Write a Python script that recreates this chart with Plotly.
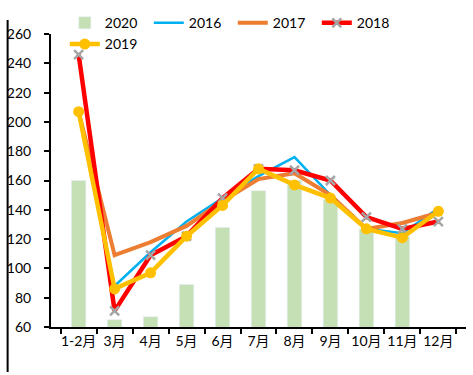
import plotly.graph_objects as go

categories = ["1-2月", "3月", "4月", "5月", "6月", "7月", "8月", "9月", "10月", "11月", "12月"]
s2020 = [160, 65, 67, 89, 128, 153, 160, 147, 127, 122, None]
s2016 = [207, 88, 111, 132, 148, 163, 176, 150, 127, 124, 141]
s2017 = [207, 109, 118, 129, 146, 161, 165, 150, 127, 131, 138]
s2018 = [246, 71, 109, 122, 148, 168, 167, 160, 135, 127, 132]
s2019 = [207, 86, 97, 122, 143, 168, 157, 148, 127, 121, 139]
y_ticks = [60, 80, 100, 120, 140, 160, 180, 200, 220, 240, 260]

font_family = "Lato, 'Noto Sans CJK SC', sans-serif"

fig = go.Figure()
fig.add_trace(go.Bar(x=categories, y=s2020, name="2020", marker_color="#C5E0B4"))
fig.add_trace(go.Scatter(x=categories, y=s2016, name="2016", mode="lines",
                         line=dict(color="#00B0F0", width=2.5)))
fig.add_trace(go.Scatter(x=categories, y=s2017, name="2017", mode="lines",
                         line=dict(color="#ED7D31", width=4)))
fig.add_trace(go.Scatter(x=categories, y=s2018, name="2018", mode="lines+markers",
                         line=dict(color="#FF0000", width=4.5),
                         marker=dict(symbol="x-thin", size=9,
                                     line=dict(color="#A5A5A5", width=2.5))))
fig.add_trace(go.Scatter(x=categories, y=s2019, name="2019", mode="lines+markers",
                         line=dict(color="#FFC000", width=4.5),
                         marker=dict(symbol="circle", size=11, color="#FFC000")))

fig.update_layout(
    width=473, height=375,
    margin=dict(l=45, r=7, t=15, b=48),
    plot_bgcolor="white", paper_bgcolor="white",
    font=dict(family=font_family, size=14, color="black"),
    bargap=0.6,
    showlegend=True,
    legend=dict(orientation="h", x=14/421, y=1.001, xanchor="left", yanchor="middle",
                font=dict(size=14), bgcolor="rgba(0,0,0,0)",
                entrywidth=39, entrywidthmode="pixels",
                itemwidth=30, tracegroupgap=0),
    xaxis=dict(showline=True, linecolor="black", linewidth=2, tickangle=0,
               ticks="outside", tickson="boundaries", ticklen=5, tickwidth=2,
               tickcolor="black", showgrid=False, tickfont=dict(size=14)),
    yaxis=dict(range=[60, 260], tickvals=y_ticks, showline=True, linecolor="black",
               linewidth=2, ticks="outside", ticklen=5, tickwidth=2, tickcolor="black",
               ticklabelstandoff=10,
               showgrid=False, zeroline=False, tickfont=dict(size=14)),
    shapes=[dict(type="line", xref="paper", yref="paper",
                 x0=-44/421, x1=-44/421, y0=-48/312, y1=(312+15)/312,
                 line=dict(color="black", width=2))],
)

fig.write_html("out.html", config={"displayModeBar": False},
               post_script="document.body.style.margin='0';")
